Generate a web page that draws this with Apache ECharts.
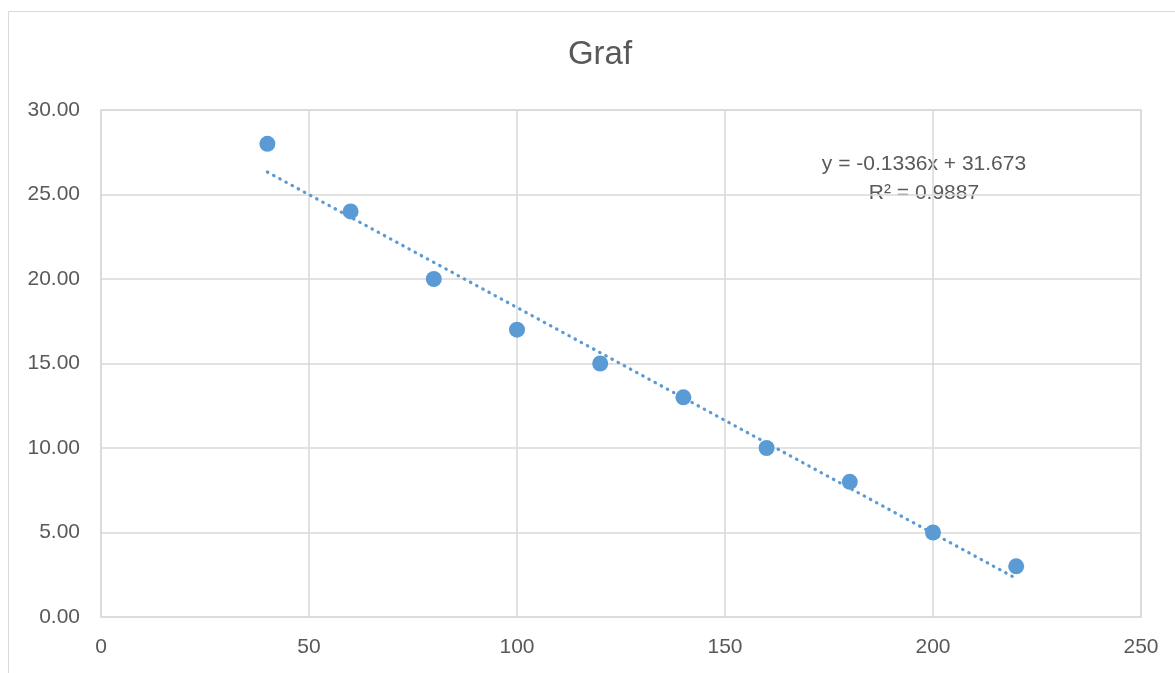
<!DOCTYPE html>
<html><head><meta charset="utf-8">
<script src="https://cdn.jsdelivr.net/npm/echarts@6/dist/echarts.min.js"></script>
<style>html,body{margin:0;padding:0;background:#fff}#c{width:1175px;height:673px}</style>
</head><body><div id="c"></div>
<script>
const xValues = [40, 60, 80, 100, 120, 140, 160, 180, 200, 220];
const yValues = [28, 24, 20, 17, 15, 13, 10, 8, 5, 3];
const trendX = [40, 220];
const trendY = [26.329, 2.281];
const titleText = 'Graf';
const trendLabel = ['y = -0.1336x + 31.673', 'R² = 0.9887'];

const chart = echarts.init(document.getElementById('c'), null, {renderer: 'canvas'});
const FONT = 'Liberation Sans';
const TXT = '#595959';
const GRID = '#d9d9d9';
const BLUE = '#5B9BD5';

chart.setOption({
  animation: false,
  backgroundColor: '#fff',
  graphic: [
    {type: 'rect', shape: {x: 8.5, y: 11.5, width: 1180, height: 700},
     style: {fill: 'none', stroke: GRID, lineWidth: 1}, silent: true, z: -1},
    {type: 'text', x: 600, y: 38,
     style: {text: titleText, textAlign: 'center', textVerticalAlign: 'top', fill: TXT,
             font: '33px "' + FONT + '"'}},
    {type: 'text', x: 924, y: 154,
     style: {text: trendLabel[0], textAlign: 'center', textVerticalAlign: 'top', fill: TXT,
             font: '21px "' + FONT + '"'}},
    {type: 'text', x: 924, y: 183,
     style: {text: trendLabel[1], textAlign: 'center', textVerticalAlign: 'top', fill: TXT,
             font: '21px "' + FONT + '"'}}
  ],
  grid: {left: 101, right: 34, top: 110, bottom: 56, show: true, borderColor: GRID, borderWidth: 1.5, containLabel: false},
  xAxis: {
    type: 'value', min: 0, max: 250, interval: 50,
    axisLine: {show: false}, axisTick: {show: false},
    splitLine: {show: true, lineStyle: {color: GRID, width: 1.5}},
    axisLabel: {color: TXT, fontFamily: FONT, fontSize: 21, margin: 20}
  },
  yAxis: {
    type: 'value', min: 0, max: 30, interval: 5,
    axisLine: {show: false}, axisTick: {show: false},
    splitLine: {show: true, lineStyle: {color: GRID, width: 1.5}},
    axisLabel: {color: TXT, fontFamily: FONT, fontSize: 21, margin: 21,
      formatter: v => v.toFixed(2)}
  },
  series: [
    {type: 'line', data: trendX.map((x, i) => [x, trendY[i]]), symbol: 'none',
     lineStyle: {color: BLUE, width: 3.2, type: [0.5, 6.5], cap: 'round'}, z: 2},
    {type: 'scatter', data: xValues.map((x, i) => [x, yValues[i]]), symbolSize: 16,
     itemStyle: {color: BLUE, opacity: 1}, z: 3}
  ]
});
</script></body></html>
